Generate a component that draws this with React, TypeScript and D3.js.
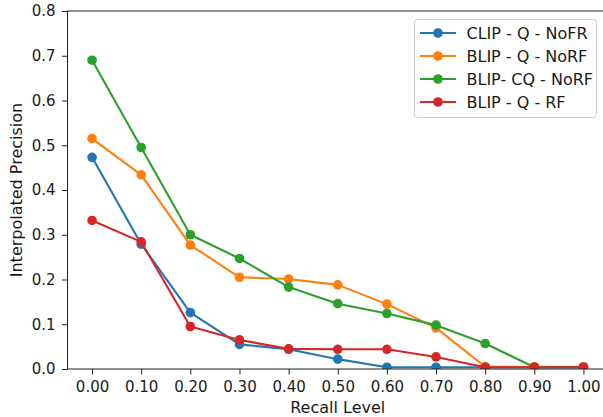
import { useEffect, useRef } from 'react';
import * as d3 from 'd3';

const recallLevels = [0, 0.1, 0.2, 0.3, 0.4, 0.5, 0.6, 0.7, 0.8, 0.9, 1.0];
const clipQNoFR = [0.473, 0.279, 0.126, 0.055, 0.044, 0.022, 0.004, 0.004, 0.004, 0.004, 0.004];
const blipQNoRF = [0.515, 0.434, 0.277, 0.205, 0.201, 0.188, 0.145, 0.092, 0.005, 0.005, 0.005];
const blipCQNoRF = [0.690, 0.495, 0.300, 0.247, 0.183, 0.146, 0.124, 0.098, 0.057, 0.004, 0.004];
const blipQRF = [0.332, 0.284, 0.095, 0.065, 0.045, 0.044, 0.044, 0.027, 0.004, 0.004, 0.004];

const seriesNames = ['CLIP - Q - NoFR', 'BLIP - Q - NoRF', 'BLIP- CQ - NoRF', 'BLIP - Q - RF'];
const seriesColors = ['#1f77b4', '#ff7f0e', '#2ca02c', '#d62728'];
const yTicks = [0, 0.1, 0.2, 0.3, 0.4, 0.5, 0.6, 0.7, 0.8];

const LineChart = () => {
  const svgRef = useRef<SVGSVGElement>(null);

  useEffect(() => {
    document.body.style.margin = '0';
    const svg = d3.select(svgRef.current);
    svg.selectAll('*').remove();

    const W = 603, H = 417;
    const left = 67.5, right = 608, top = 11, bottom = 369;
    const font = 'DejaVu Sans, sans-serif';

    svg.attr('width', W).attr('height', H);
    svg.append('rect').attr('width', W).attr('height', H).attr('fill', '#fff');

    const x = d3.scaleLinear().domain([-0.05, 1.05]).range([left, right]);
    const y = d3.scaleLinear().domain([0, 0.8]).range([bottom, top]);

    const series = [clipQNoFR, blipQNoRF, blipCQNoRF, blipQRF].map((vals, i) => ({
      name: seriesNames[i],
      color: seriesColors[i],
      points: vals.map((v, j) => ({ r: recallLevels[j], v })),
    }));

    svg.append('clipPath').attr('id', 'plot-clip')
      .append('rect')
      .attr('x', left).attr('y', top)
      .attr('width', right - left).attr('height', bottom - top);

    const plot = svg.append('g').attr('clip-path', 'url(#plot-clip)');

    const line = d3.line<{ r: number; v: number }>()
      .x(d => x(d.r))
      .y(d => y(d.v));

    // lines and markers, in plotting order
    series.forEach(s => {
      const g = plot.append('g');
      g.append('path')
        .datum(s.points)
        .attr('fill', 'none')
        .attr('stroke', s.color)
        .attr('stroke-width', 2.1)
        .attr('stroke-linejoin', 'round')
        .attr('d', line);
      g.selectAll('circle')
        .data(s.points)
        .enter().append('circle')
        .attr('cx', d => x(d.r))
        .attr('cy', d => y(d.v))
        .attr('r', 4.8)
        .attr('fill', s.color);
    });

    // Axes
    const xAxis = svg.append('g')
      .attr('transform', `translate(0,${bottom})`)
      .call(d3.axisBottom(x).tickValues(recallLevels).tickFormat(d3.format('.2f')).tickSize(5.5).tickPadding(7));
    const yAxis = svg.append('g')
      .attr('transform', `translate(${left},0)`)
      .call(d3.axisLeft(y).tickValues(yTicks).tickFormat(d3.format('.1f')).tickSize(5.5).tickPadding(6.5));

    [xAxis, yAxis].forEach(a => {
      a.select('.domain').remove();
      a.selectAll('line').attr('stroke', '#222').attr('stroke-width', 1);
      a.selectAll('text').attr('fill', '#1a1a1a').style('font-family', font).style('font-size', '15px');
    });

    // spines
    svg.append('rect')
      .attr('x', left).attr('y', top)
      .attr('width', right - left).attr('height', bottom - top)
      .attr('fill', 'none').attr('stroke', '#222').attr('stroke-width', 1);

    svg.append('text')
      .attr('x', (left + right) / 2).attr('y', 412.5)
      .attr('text-anchor', 'middle')
      .attr('fill', '#1a1a1a')
      .style('font-family', font).style('font-size', '16px')
      .text('Recall Level');

    svg.append('text')
      .attr('transform', `translate(21.5,${(top + bottom) / 2}) rotate(-90)`)
      .attr('text-anchor', 'middle')
      .attr('fill', '#1a1a1a')
      .style('font-family', font).style('font-size', '16px')
      .text('Interpolated Precision');

    // Legend
    const lg = svg.append('g');
    lg.append('rect')
      .attr('x', 414.5).attr('y', 19.5)
      .attr('width', 182).attr('height', 98)
      .attr('rx', 3)
      .attr('fill', '#fff').attr('fill-opacity', 0.8)
      .attr('stroke', '#ccc').attr('stroke-width', 1);

    series.forEach((s, i) => {
      const cy = 33 + i * 23;
      lg.append('line')
        .attr('x1', 420).attr('x2', 456)
        .attr('y1', cy).attr('y2', cy)
        .attr('stroke', s.color).attr('stroke-width', 2.1);
      lg.append('circle')
        .attr('cx', 438).attr('cy', cy).attr('r', 4.8)
        .attr('fill', s.color);
      lg.append('text')
        .attr('x', 466.5).attr('y', cy + 5.5)
        .attr('fill', '#1a1a1a')
        .style('font-family', font).style('font-size', '16px')
        .text(s.name);
    });
  }, []);

  return <svg ref={svgRef} style={{ display: 'block' }}></svg>;
};

export default function App() {
  return <LineChart />;
}
